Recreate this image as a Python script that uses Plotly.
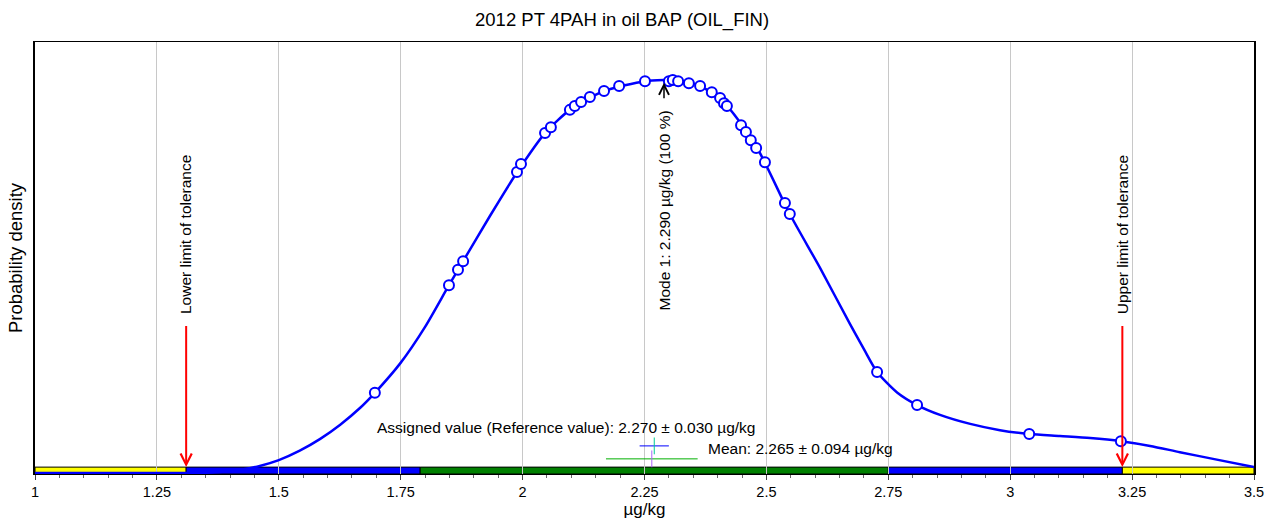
import plotly.graph_objects as go

# ---- data ----
curve_x = [1.00, 1.10, 1.20, 1.30, 1.36, 1.400, 1.431, 1.461, 1.500, 1.543, 1.585, 1.626, 1.667,
           1.697, 1.749, 1.800, 1.849, 1.878, 1.933, 1.989, 2.046, 2.097, 2.167, 2.251, 2.290,
           2.308, 2.364, 2.419, 2.481, 2.548, 2.610, 2.671, 2.700, 2.727, 2.768, 2.809, 2.856,
           2.918, 2.979, 3.039, 3.102, 3.164, 3.227, 3.287, 3.348, 3.416, 3.500]
curve_y = [0.0, 0.0, 0.0, 0.0, 0.001, 0.005, 0.010, 0.018, 0.033, 0.057, 0.087, 0.123, 0.166,
           0.204, 0.279, 0.372, 0.478, 0.539, 0.654, 0.766, 0.865, 0.924, 0.972, 0.997, 1.0,
           1.0, 0.985, 0.934, 0.827, 0.659, 0.522, 0.380, 0.315, 0.257, 0.205, 0.173, 0.148,
           0.125, 0.109, 0.099, 0.094, 0.089, 0.081, 0.069, 0.053, 0.036, 0.015]

result_x = [1.697, 1.849, 1.8675, 1.878, 1.9885, 1.9967, 2.046, 2.058, 2.097, 2.107, 2.120, 2.138,
            2.167, 2.198, 2.251, 2.300, 2.308, 2.319, 2.341, 2.364, 2.388, 2.405, 2.413, 2.419,
            2.448, 2.458, 2.468, 2.479, 2.497, 2.538, 2.548, 2.727, 2.809, 3.039, 3.227]
result_y = [0.204, 0.478, 0.517, 0.539, 0.766, 0.786, 0.865, 0.880, 0.924, 0.934, 0.944, 0.957,
            0.972, 0.985, 0.997, 0.997, 1.0, 0.997, 0.992, 0.985, 0.969, 0.954, 0.941, 0.934,
            0.885, 0.868, 0.847, 0.827, 0.791, 0.687, 0.659, 0.257, 0.173, 0.099, 0.081]

assigned_value = 2.270
assigned_unc = 0.030
mean_value = 2.265
mean_unc = 0.094
mode_value = 2.290
lower_limit = 1.31
upper_limit = 3.23
z1_low = 1.79
z1_high = 2.75

band_starts = [1.0, lower_limit, z1_low, z1_high, upper_limit]
band_ends = [lower_limit, z1_low, z1_high, upper_limit, 3.5]
band_colors = ["#ffff00", "#0000ff", "#008000", "#0000ff", "#ffff00"]

tick_vals = [1, 1.25, 1.5, 1.75, 2, 2.25, 2.5, 2.75, 3, 3.25, 3.5]
tick_text = ["1", "1.25", "1.5", "1.75", "2", "2.25", "2.5", "2.75", "3", "3.25", "3.5"]

FONT = "Liberation Sans, Arial, sans-serif"
BAND_TOP = 0.015
Y_MIN = -0.0025
Y_MAX = 1.0967

fig = go.Figure()

fig.add_trace(go.Scatter(x=curve_x, y=curve_y, mode="lines",
                         line=dict(color="#0000ff", width=2.5, shape="spline", smoothing=0.7),
                         hoverinfo="skip", showlegend=False))
fig.add_trace(go.Scatter(x=result_x, y=result_y, mode="markers",
                         marker=dict(symbol="circle", size=10, color="white",
                                     line=dict(color="#0000ff", width=2)),
                         showlegend=False))

# assigned value bar (blue) and mean bar (green)
fig.add_trace(go.Scatter(x=[assigned_value], y=[0.069], mode="markers",
                         marker=dict(symbol="line-ns-open", size=12, line=dict(color="#0000ff", width=1)),
                         error_x=dict(type="constant", value=assigned_unc, color="#0000ff",
                                      thickness=1, width=0),
                         showlegend=False))
fig.add_trace(go.Scatter(x=[mean_value], y=[0.036], mode="markers",
                         marker=dict(symbol="line-ns-open", size=12, line=dict(color="#00b000", width=1)),
                         error_x=dict(type="constant", value=mean_unc, color="#00b000",
                                      thickness=1, width=0),
                         showlegend=False))

shapes = []
for s, e, c in zip(band_starts, band_ends, band_colors):
    shapes.append(dict(type="rect", xref="x", yref="y", x0=s, x1=e, y0=Y_MIN, y1=BAND_TOP,
                       fillcolor=c, line=dict(color="black", width=1), layer="below"))
fig.update_layout(shapes=shapes)

ann = []
# tolerance arrows
for lim in [lower_limit, upper_limit]:
    ann.append(dict(x=lim, y=BAND_TOP, ax=lim, ay=0.378, xref="x", yref="y", axref="x", ayref="y",
                    text="", showarrow=True, arrowhead=5, arrowsize=1.1, arrowwidth=2,
                    arrowcolor="#ff0000"))
ann.append(dict(x=lower_limit, y=0.606, xref="x", yref="y", text="Lower limit of tolerance",
                textangle=-90, showarrow=False, font=dict(family=FONT, size=15.5, color="black")))
ann.append(dict(x=upper_limit, y=0.606, xref="x", yref="y", text="Upper limit of tolerance",
                textangle=-90, showarrow=False, font=dict(family=FONT, size=15.5, color="black")))
# mode arrow
ann.append(dict(x=mode_value, y=0.993, ax=mode_value, ay=0.95, xref="x", yref="y", axref="x", ayref="y",
                text="", showarrow=True, arrowhead=5, arrowsize=1.3, arrowwidth=1.5, arrowcolor="black"))
ann.append(dict(x=mode_value, y=0.668, xref="x", yref="y",
                text="Mode 1: 2.290 \u00b5g/kg (100 %)", textangle=-90, showarrow=False,
                font=dict(family=FONT, size=15.5, color="black")))
ann.append(dict(x=1.697, y=0.115, xref="x", yref="y", xanchor="left",
                text="Assigned value (Reference value): 2.270 \u00b1 0.030 \u00b5g/kg",
                showarrow=False, font=dict(family=FONT, size=15.5, color="black")))
ann.append(dict(x=2.376, y=0.062, xref="x", yref="y", xanchor="left",
                text="Mean: 2.265 \u00b1 0.094 \u00b5g/kg",
                showarrow=False, font=dict(family=FONT, size=15.5, color="black")))
fig.update_layout(annotations=ann)

fig.update_layout(
    width=1267, height=521,
    margin=dict(l=35, r=13, t=42, b=47, autoexpand=False),
    paper_bgcolor="white", plot_bgcolor="white",
    title=dict(text="2012 PT 4PAH in oil BAP (OIL_FIN)", x=0.491, xanchor="center",
               y=0.962, yanchor="middle", font=dict(family=FONT, size=18.5, color="black")),
    font=dict(family=FONT, size=14, color="black"),
    xaxis=dict(range=[1, 3.5], tickvals=tick_vals, ticktext=tick_text, automargin=False,
               showgrid=True, gridcolor="#c8c8c8", gridwidth=1,
               ticks="outside", ticklen=5, tickcolor="#444", tickfont=dict(family=FONT, size=14.5),
               minor=dict(dtick=0.05, tick0=1, ticks="outside", ticklen=3, tickcolor="#666", showgrid=False),
               showline=True, linecolor="black", linewidth=1, mirror=True, zeroline=False,
               title=dict(text="\u00b5g/kg", standoff=2, font=dict(family=FONT, size=17))),
    yaxis=dict(range=[Y_MIN, Y_MAX], showticklabels=False, ticks="", showgrid=False, automargin=False,
               zeroline=False, showline=True, linecolor="black", linewidth=2, mirror=True,
               title=dict(text="Probability density", standoff=6, font=dict(family=FONT, size=18.5))),
)

fig.write_html("out.html")
